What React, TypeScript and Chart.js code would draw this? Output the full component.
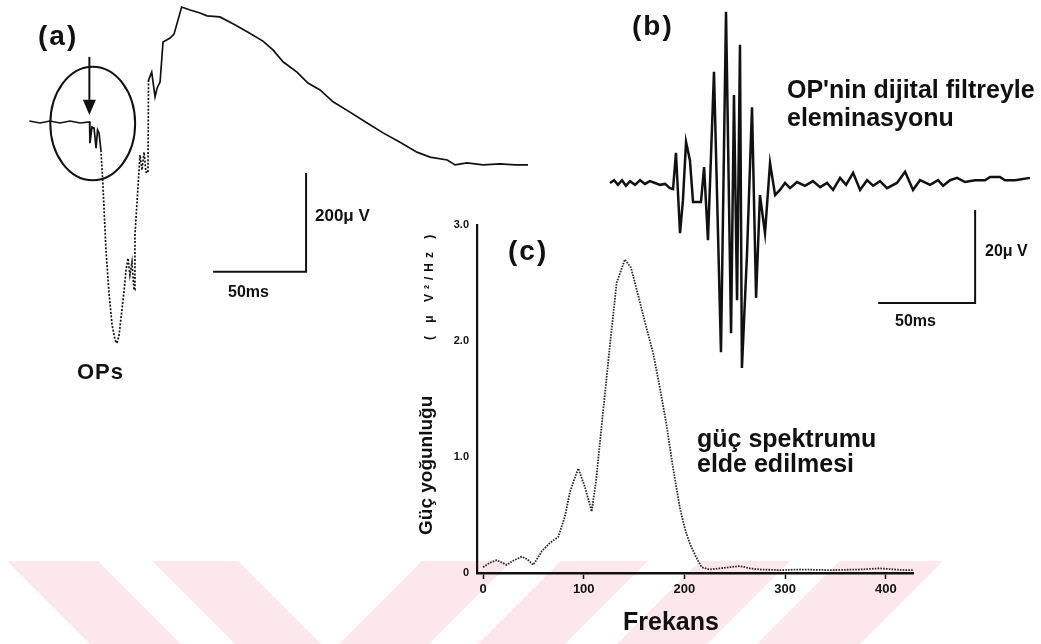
import React, { useEffect, useRef } from "react";
import { Chart, registerables } from "chart.js";

Chart.register(...registerables);

// ---------- Panel (a): ERG response (time in ms, amplitude in µV) ----------
const aTimeMs = [
  0, 5.8, 11.1, 16.5, 21.9, 27.3, 32.4, 32.6, 33.7, 34.8, 35.9, 36.7, 37.5, 38.5,
  39.6, 41.2, 42.8, 44.5, 46.1, 47.1, 48.2, 49.3, 50.9, 52.0, 53.1, 54.1, 55.2,
  56.3, 56.8, 59.5, 60.6, 61.7, 62.7, 63.8, 64.1, 65.8, 67.6, 68.7, 70.3, 71.9,
  75.7, 77.8, 81.9, 86.4, 91.8, 95.5, 102.5, 109.5, 117.6, 125.6, 131.0, 136.4,
  143.9, 149.8, 156.3, 163.3, 172.4, 181.6, 190.2, 199.3, 208.4, 215.4, 224.7,
  228.9, 235.3, 243.9, 253.1, 261.1, 268.1,
];
const aAmpUV = [
  2, -2, 2, -2, 2, -2, 0, -43, -10, -12, -53, -16, -22, -57,
  -128, -259, -344, -411, -442, -448, -434, -397, -344, -300, -276, -310, -284,
  -340, -229, -67, -97, -61, -101, -103, 85, 101, 51, 69, 81, 162,
  170, 178, 233, 227, 221, 215, 213, 199, 182, 164, 146, 122,
  101, 79, 65, 41, 20, -2, -22, -41, -61, -71, -77,
  -87, -83, -87, -85, -87, -87,
];
// scale bar (a): 50 ms x 200 µV
const aBarT = [98.8, 148.8, 148.8];
const aBarV = [-303.3, -303.3, -103.3];
// OPs marker (circle + arrow) anchors
const aCircle = { t: 34.1, v: -3, rt: 22.8, rv: 115 };
const aArrow = { t: 32.3, from: 132, head: 45, to: 14 };

// ---------- Panel (b): filtered OPs (ms, µV) ----------
const bTimeMs = [
  0, 2.1, 4.1, 6.2, 8.2, 10.3, 12.9, 15.5, 18.0, 20.6, 23.2, 25.8, 28.4, 30.9, 32.5,
  34.0, 36.1, 37.6, 39.2, 41.2, 42.8, 46.9, 48.5, 50.5, 53.6, 57.2, 59.8, 62.4,
  63.9, 65.5, 67.0, 68.0, 70.6, 73.2, 75.3, 77.3, 79.9, 82.5, 85.1, 87.6, 90.2,
  92.8, 96.4, 100.5, 104.6, 108.3, 111.9, 115.0, 118.6, 121.7, 125.3, 128.9, 132.5,
  135.6, 139.2, 142.8, 147.9, 152.1, 156.2, 159.8, 165.0, 169.1, 171.7, 175.3,
  178.9, 183.0, 188.2, 193.3, 195.9, 201.0, 203.6, 208.8, 216.5,
];
const bAmpUV = [
  0, 0.6, -0.4, 0.6, -0.6, 0.4, -0.4, 0.6, -0.2, 0.4, 0, -0.4, -0.2, -1.1, -1.3,
  6.5, -10.8, -3.7, 8.8, 4.9, -4.1, -4.1, 3.4, -12.3, 23.9, -36.4, 36.8, -32.3,
  18.9, -25.2, 29.7, -39.8, -15.5, 16.3, -24.7, -2.6, -10.8, 4.3, -2.6, -1.5, 0,
  -1.1, 0.2, -0.6, 0.4, -0.9, 0, -1.5, 1.1, -0.4, 2.2, -1.5, 0.6,
  -0.6, 0.4, -1.1, 0, 2.4, -1.5, 0.6, -0.4, 0.6, -0.6, 0.6,
  1.1, 0.2, 0.6, 0.6, 1.3, 1.3, 0.6, 0.6, 1.1,
];
// scale bar (b): 50 ms x 20 µV
const bBarT = [138.2, 188.2, 188.2];
const bBarV = [-25.8, -25.8, -5.8];

// ---------- Panel (c): power spectrum ----------
const cFreqHz = [
  0, 7, 13.6, 23.5, 30.8, 38.4, 43.7, 49.9, 58.6, 66.5, 74.7, 81.4, 86.4, 90.3,
  94.6, 101.2, 107.9, 112.2, 117.8, 122.1, 126.1, 132.7, 140.9, 146.9, 154.1,
  160.8, 169.0, 175.7, 182.3, 188.6, 195.5, 200.5, 205.5, 211.4, 217.1, 225,
  235, 245, 255, 265, 275, 295, 315, 344, 374, 394, 409, 419, 427,
];
const cPower = [
  0.05, 0.09, 0.11, 0.07, 0.11, 0.14, 0.12, 0.07, 0.19, 0.26, 0.31, 0.49, 0.7, 0.8,
  0.9, 0.74, 0.53, 0.79, 1.27, 1.63, 1.97, 2.5, 2.7, 2.63, 2.39,
  2.16, 1.89, 1.59, 1.27, 0.91, 0.56, 0.38, 0.25, 0.14, 0.05, 0.03,
  0.04, 0.05, 0.06, 0.04, 0.03, 0.025, 0.03, 0.025, 0.03, 0.04, 0.03, 0.025, 0.025,
];
const cXTicks = [0, 100, 200, 300, 400];
const cYTicks = [0, 1, 2, 3];
const cYTickLabels = ["0", "1.0", "2.0", "3.0"];

const FONT = "'Liberation Sans', Arial, Helvetica, sans-serif";
const INK = "#111";

const pts = (xs: number[], ys: number[]) => xs.map((x, i) => ({ x, y: ys[i] }));

const baseOpts = (xmin: number, xmax: number, ymin: number, ymax: number) => ({
  animation: false as const,
  responsive: false,
  devicePixelRatio: 1,
  events: [] as any[],
  layout: { padding: 0 },
  plugins: { legend: { display: false }, tooltip: { enabled: false } },
  scales: {
    x: { type: "linear" as const, display: false, min: xmin, max: xmax },
    y: { type: "linear" as const, display: false, min: ymin, max: ymax },
  },
});

const opsMarker = {
  id: "opsMarker",
  afterDatasetsDraw(chart: any) {
    const { ctx, scales } = chart;
    const x = scales.x, y = scales.y;
    const cx = x.getPixelForValue(aCircle.t);
    const cy = y.getPixelForValue(aCircle.v);
    const rx = Math.abs(x.getPixelForValue(aCircle.t + aCircle.rt) - cx);
    const ry = Math.abs(y.getPixelForValue(aCircle.v + aCircle.rv) - cy);
    ctx.save();
    ctx.strokeStyle = INK;
    ctx.fillStyle = INK;
    ctx.lineWidth = 2;
    ctx.beginPath();
    ctx.ellipse(cx, cy, rx, ry, 0, 0, Math.PI * 2);
    ctx.stroke();
    const ax = x.getPixelForValue(aArrow.t);
    const y0 = y.getPixelForValue(aArrow.from);
    const yh = y.getPixelForValue(aArrow.head);
    const y1 = y.getPixelForValue(aArrow.to);
    ctx.beginPath();
    ctx.moveTo(ax, y0);
    ctx.lineTo(ax, yh);
    ctx.stroke();
    ctx.beginPath();
    ctx.moveTo(ax - 6.5, yh);
    ctx.lineTo(ax + 6.5, yh);
    ctx.lineTo(ax, y1);
    ctx.closePath();
    ctx.fill();
    ctx.restore();
  },
};

function PanelA() {
  const ref = useRef<HTMLCanvasElement>(null);
  useEffect(() => {
    const chart = new Chart(ref.current!, {
      type: "line",
      data: {
        datasets: [
          {
            data: pts(aTimeMs, aAmpUV),
            borderColor: INK,
            borderWidth: 1.7,
            pointRadius: 0,
            tension: 0,
            segment: {
              borderDash: (c: any) =>
                c.p0.parsed.x >= 38 && c.p0.parsed.x < 64 ? [2, 1.6] : undefined,
            },
          } as any,
          {
            data: pts(aBarT, aBarV),
            borderColor: INK,
            borderWidth: 2,
            pointRadius: 0,
            tension: 0,
          },
        ],
      },
      options: baseOpts(-15.75, 274.55, -563.2, 247.2) as any,
      plugins: [opsMarker],
    });
    return () => chart.destroy();
  }, []);
  return (
    <canvas
      ref={ref}
      width={540}
      height={400}
      style={{ position: "absolute", left: 0, top: 0, width: 540, height: 400 }}
    />
  );
}

function PanelB() {
  const ref = useRef<HTMLCanvasElement>(null);
  useEffect(() => {
    const chart = new Chart(ref.current!, {
      type: "line",
      data: {
        datasets: [
          {
            data: pts(bTimeMs, bAmpUV),
            borderColor: INK,
            borderWidth: 2.5,
            pointRadius: 0,
            tension: 0,
          },
          {
            data: pts(bBarT, bBarV),
            borderColor: INK,
            borderWidth: 2,
            pointRadius: 0,
            tension: 0,
          },
        ],
      },
      options: baseOpts(-25.77, 222.16, -46.67, 39.35) as any,
    });
    return () => chart.destroy();
  }, []);
  return (
    <canvas
      ref={ref}
      width={481}
      height={400}
      style={{ position: "absolute", left: 560, top: 0, width: 481, height: 400 }}
    />
  );
}

function PanelC() {
  const ref = useRef<HTMLCanvasElement>(null);
  useEffect(() => {
    const tickFont = { family: FONT, size: 13, weight: "bold" as const };
    const chart = new Chart(ref.current!, {
      type: "line",
      data: {
        datasets: [
          {
            data: pts(cFreqHz, cPower),
            borderColor: "#2a2a2a",
            borderWidth: 1.8,
            borderDash: [1.6, 1.2],
            pointRadius: 0,
            tension: 0,
          },
        ],
      },
      options: {
        animation: false,
        responsive: false,
        devicePixelRatio: 1,
        events: [],
        layout: { padding: { top: 8, right: 7, left: 0, bottom: 0 } },
        plugins: { legend: { display: false }, tooltip: { enabled: false } },
        scales: {
          x: {
            type: "linear",
            min: -6,
            max: 427,
            afterFit: (s: any) => {
              s.height = 47;
            },
            afterBuildTicks: (s: any) => {
              s.ticks = cXTicks.map((v) => ({ value: v }));
            },
            grid: {
              drawOnChartArea: false,
              drawTicks: true,
              tickLength: 6,
              tickColor: INK,
              tickWidth: 1.5,
              color: INK,
            },
            border: { display: true, color: INK, width: 2.6, dash: [2, 1] },
            ticks: {
              color: INK,
              font: tickFont,
              padding: 3,
              maxRotation: 0,
              autoSkip: false,
            },
          },
          y: {
            type: "linear",
            min: 0,
            max: 3,
            afterFit: (s: any) => {
              s.width = 77;
            },
            afterBuildTicks: (s: any) => {
              s.ticks = cYTicks.map((v) => ({ value: v }));
            },
            grid: { drawOnChartArea: false, drawTicks: false },
            border: { display: true, color: INK, width: 2.2, dash: [2, 1] },
            ticks: {
              color: INK,
              font: { family: FONT, size: 11, weight: "bold" },
              padding: 8,
              callback: (_v: any, i: number) => cYTickLabels[i],
            },
          },
        },
      } as any,
    });
    return () => chart.destroy();
  }, []);
  return (
    <canvas
      ref={ref}
      width={520}
      height={410}
      style={{ position: "absolute", left: 400, top: 210, width: 520, height: 410 }}
    />
  );
}

// watermark stripes: [left, right] x at top edge (y=561); dir +1 = "\", -1 = "/"
const stripeTops: [number, number, number][] = [
  [7, 98, 1],
  [152, 238, 1],
  [422, 512, -1],
  [561, 648, -1],
  [700, 790, -1],
  [840, 943, -1],
];

function Watermark() {
  const y0 = 561, y1 = 644, d = y1 - y0;
  return (
    <svg
      width={1041}
      height={644}
      style={{ position: "absolute", left: 0, top: 0 }}
    >
      {stripeTops.map(([a, b, dir], i) => (
        <polygon
          key={i}
          points={`${a},${y0} ${b},${y0} ${b + dir * d},${y1} ${a + dir * d},${y1}`}
          fill="#fce8ec"
        />
      ))}
    </svg>
  );
}

const txt = (
  left: number,
  top: number,
  size: number,
  extra: React.CSSProperties = {}
): React.CSSProperties => ({
  position: "absolute",
  left,
  top,
  fontFamily: FONT,
  fontWeight: "bold",
  fontSize: size,
  lineHeight: 1,
  color: INK,
  whiteSpace: "nowrap",
  ...extra,
});

export default function App() {
  return (
    <div
      style={{
        position: "absolute",
        left: 0,
        top: 0,
        width: 1041,
        height: 644,
        background: "#fff",
        overflow: "hidden",
      }}
    >
      <Watermark />
      <PanelA />
      <PanelB />
      <PanelC />

      <div style={txt(38, 22, 28, { letterSpacing: 2 })}>(a)</div>
      <div style={txt(632, 12, 28, { letterSpacing: 2 })}>(b)</div>
      <div style={txt(508, 237, 28, { letterSpacing: 2 })}>(c)</div>

      <div style={txt(77, 361, 22, { letterSpacing: 1 })}>OPs</div>

      <div style={txt(315, 207, 17)}>200μ V</div>
      <div style={txt(228, 284, 16)}>50ms</div>
      <div style={txt(985, 243, 16)}>20μ V</div>
      <div style={txt(895, 313, 16)}>50ms</div>

      <div style={txt(787, 75, 25, { lineHeight: "28px" })}>
        OP'nin dijital filtreyle
        <br />
        eleminasyonu
      </div>

      <div style={txt(697, 426, 25, { lineHeight: "25px" })}>
        güç spektrumu
        <br />
        elde edilmesi
      </div>

      <div style={txt(623, 609, 25)}>Frekans</div>

      <div
        style={txt(416, 535, 19, {
          transformOrigin: "0 0",
          transform: "rotate(-90deg)",
        })}
      >
        Güç yoğunluğu
      </div>
      <div
        style={txt(423, 340, 12, {
          transformOrigin: "0 0",
          transform: "rotate(-90deg)",
          letterSpacing: 5,
        })}
      >
        ( μ V²/Hz )
      </div>
    </div>
  );
}
